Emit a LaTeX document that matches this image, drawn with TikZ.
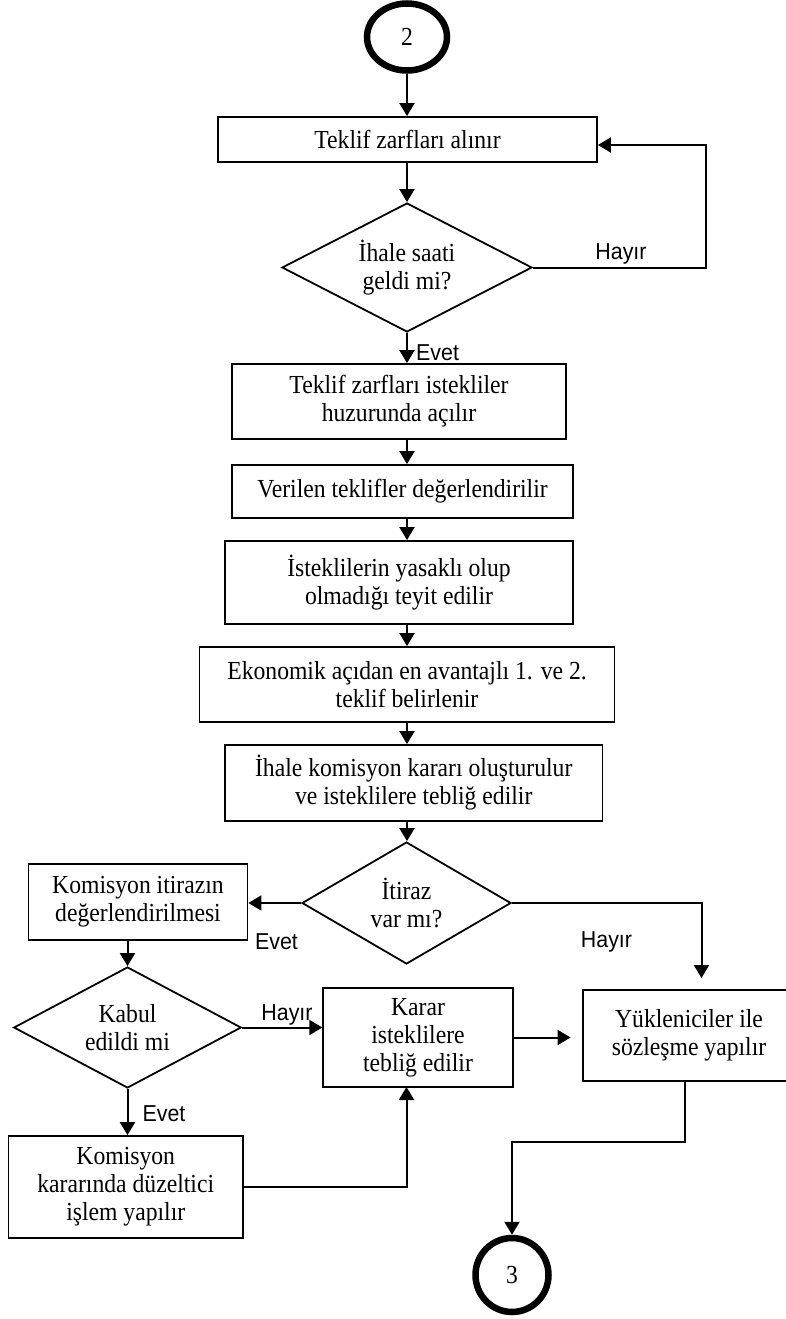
\documentclass[tikz,border=0pt]{standalone}
\usepackage{fontspec}
\setmainfont{Liberation Serif}[FakeStretch=0.91]
\newfontfamily\lblfont{Liberation Sans}[FakeStretch=0.93]
\usetikzlibrary{shapes.geometric,arrows.meta}
\begin{document}
\begin{tikzpicture}[x=1pt,y=-1pt,
  txt/.style={font=\fontsize{26}{28}\selectfont, align=center},
  box/.style={txt, draw, line width=1.8pt, inner sep=2pt},
  dec/.style={txt, draw, diamond, line width=1.8pt, inner sep=0pt},
  ring/.style={txt, draw, ellipse, line width=6.5pt, inner sep=0pt},
  arr/.style={line width=2pt, -{Triangle[width=15pt,length=13pt]}},
  lbl/.style={font=\lblfont\fontsize{23}{24}\selectfont, inner sep=0pt}]
\clip (0,0) rectangle (786,1319);
\fill[white] (0,0) rectangle (786,1319);

% nodes
\node[ring, minimum width=80pt, minimum height=67pt] (c2) at (407,37) {2};
\node[box, minimum width=379pt, minimum height=45pt] (b1) at (407.5,139.5) {Teklif zarfları alınır};
\node[dec, minimum width=250pt, minimum height=129pt, aspect=1.94] (d1) at (407,267.5) {İhale saati\\geldi mi?};
\node[box, minimum width=334pt, minimum height=75pt] (b2) at (399,401.5) {Teklif zarfları istekliler\\huzurunda açılır};
\node[box, minimum width=341pt, minimum height=53pt] (b3) at (402.5,491.5) {Verilen teklifler değerlendirilir};
\node[box, minimum width=348pt, minimum height=83pt] (b4) at (399,582.5) {İsteklilerin yasaklı olup\\olmadığı teyit edilir};
\node[box, minimum width=415pt, minimum height=75pt] (b5) at (407,684.5) {Ekonomik açıdan en avantajlı 1. ve 2.\\teklif belirlenir};
\node[box, minimum width=377.5pt, minimum height=76pt] (b6) at (413.75,783) {İhale komisyon kararı oluşturulur\\ve isteklilere tebliğ edilir};
\node[dec, minimum width=209pt, minimum height=122pt, aspect=1.71] (d2) at (406.5,903) {İtiraz\\var mı?};
\node[box, minimum width=219pt, minimum height=76pt] (k1) at (138,902) {Komisyon itirazın\\değerlendirilmesi};
\node[dec, minimum width=227.5pt, minimum height=121pt, aspect=1.88] (d3) at (127.5,1027.5) {Kabul\\edildi mi};
\node[box, minimum width=189.5pt, minimum height=99pt] (kr) at (418,1037.5) {Karar\\isteklilere\\tebliğ edilir};
\node[box, minimum width=212pt, minimum height=91pt] (yk) at (689,1035.5) {Yükleniciler ile\\sözleşme yapılır};
\node[box, minimum width=234.5pt, minimum height=102pt] (kk) at (125.75,1187) {Komisyon\\kararında düzeltici\\işlem yapılır};
\node[ring, minimum width=73pt, minimum height=74pt] (c3) at (512,1275) {3};

% helper coordinates
\coordinate (ax) at (407,0);
\coordinate (h1) at (706,267.5);
\coordinate (h2) at (701.5,978);
\coordinate (m1) at (685,1142);
\coordinate (m2) at (406.5,1087);

% labels
\node[lbl] (l1) at (621,254) {Hayır};
\node[lbl, anchor=west] (l2) at (416,353) {Evet};
\node[lbl] (l3) at (276.5,942) {Evet};
\node[lbl] (l4) at (606.5,942) {Hayır};
\node[lbl] (l5) at (287,1015) {Hayır};
\node[lbl] (l6) at (164,1114) {Evet};

% connectors
\draw[arr] (c2.south -| ax) -- (b1.north -| ax);
\draw[arr] (b1.south -| ax) -- (d1.north -| ax);
\draw[arr] (d1.east) -- (h1) |- ([yshift=-5.5pt]b1.east);
\draw[arr] (d1.south) -- (d1.south |- b2.north);
\draw[arr] (b2.south -| ax) -- (b3.north -| ax);
\draw[arr] (b3.south -| ax) -- (b4.north -| ax);
\draw[arr] (b4.south -| ax) -- (b5.north -| ax);
\draw[arr] (b5.south -| ax) -- (b6.north -| ax);
\draw[arr] (b6.south -| ax) -- (d2.north -| ax);
\draw[arr] (d2.west) -- (d2.west -| k1.east);
\draw[arr] (d2.east) -| (h2);
\draw[arr] (k1.south -| d3.north) -- (d3.north);
\draw[arr] (d3.east) -- (d3.east -| kr.west);
\draw[arr, shorten >=11.5pt] (kr.east) -- (kr.east -| yk.west);
\draw[arr] (d3.south) -- (d3.south |- kk.north);
\draw[arr] (kk.east) -| (m2);
\draw[arr] (yk.south -| m1) -- (m1) -| (c3.north);
\end{tikzpicture}
\end{document}
